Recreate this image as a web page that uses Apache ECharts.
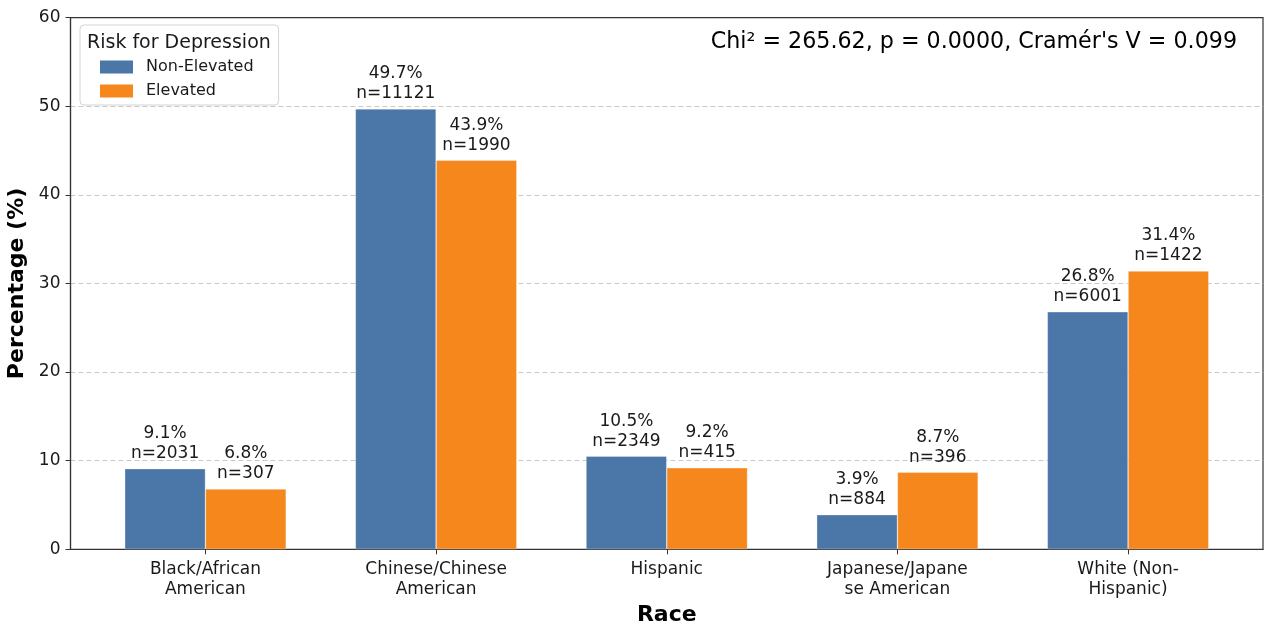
<!DOCTYPE html>
<html>
<head>
<meta charset="utf-8">
<script src="https://cdn.jsdelivr.net/npm/echarts@6/dist/echarts.min.js"></script>
<style>
html,body{margin:0;padding:0;background:#fff;}
#chart{width:1264px;height:624px;}
</style>
</head>
<body>
<div id="chart"></div>
<script>
const categories = ['Black/African American', 'Chinese/Chinese American', 'Hispanic', 'Japanese/Japanese American', 'White (Non-Hispanic)'];
const tickLabels = ['Black/African\nAmerican', 'Chinese/Chinese\nAmerican', 'Hispanic', 'Japanese/Japane\nse American', 'White (Non-\nHispanic)'];
const nonElevatedPct = [9.1, 49.7, 10.5, 3.9, 26.8];
const nonElevatedN = [2031, 11121, 2349, 884, 6001];
const elevatedPct = [6.8, 43.9, 9.2, 8.7, 31.4];
const elevatedN = [307, 1990, 415, 396, 1422];
const yTicks = [0, 10, 20, 30, 40, 50, 60];
const statsText = "Chi\u00b2 = 265.62, p = 0.0000, Cram\u00e9r's V = 0.099";

const FONT = 'DejaVu Sans';
const chart = echarts.init(document.getElementById('chart'), null, {renderer: 'canvas'});

function seriesData(vals) { return vals.map((v, i) => [i, v]); }
function labelFmt(pcts, ns) {
  return p => pcts[p.dataIndex].toFixed(1) + '%\nn=' + ns[p.dataIndex];
}
const labelStyle = {
  show: true, position: 'top', distance: 5,
  fontFamily: FONT, fontSize: 17, color: '#1a1a1a', lineHeight: 20, align: 'center'
};

chart.setOption({
  animation: false,
  backgroundColor: '#fff',
  title: [
    {
      text: statsText, right: 22, top: 26,
      textStyle: {fontFamily: FONT, fontSize: 22.2, fontWeight: 'normal', color: '#000'}
    },
    {
      text: 'Risk for Depression', left: 82, top: 29,
      textStyle: {fontFamily: FONT, fontSize: 19, fontWeight: 'normal', color: '#1a1a1a'}
    }
  ],
  legend: {
    orient: 'vertical', left: 80, top: 25,
    padding: [34, 25, 6, 20],
    itemGap: 8,
    itemWidth: 33, itemHeight: 13,
    icon: 'rect',
    backgroundColor: 'rgba(255,255,255,0.85)',
    borderColor: '#d4d4d4', borderWidth: 1, borderRadius: 4,
    textStyle: {fontFamily: FONT, fontSize: 16, color: '#1a1a1a', padding: [0, 0, 0, 8]},
    itemStyle: {borderWidth: 0},
    data: ['Non-Elevated', 'Elevated']
  },
  grid: {
    left: 70.5, right: 1, top: 17.6, bottom: 74.7,
    outerBoundsMode: 'none',
    show: true, borderColor: '#333', borderWidth: 1.2, backgroundColor: 'transparent',
    containLabel: false
  },
  xAxis: {
    type: 'value', min: -0.585, max: 4.585,
    name: 'Race', nameLocation: 'middle', nameGap: 46,
    nameTextStyle: {fontFamily: FONT, fontSize: 22, fontWeight: 'bold', color: '#000'},
    axisLine: {show: true, onZero: false, lineStyle: {color: '#333', width: 1.2}},
    axisTick: {show: true, customValues: [0, 1, 2, 3, 4], length: 5, lineStyle: {color: '#333'}},
    axisLabel: {
      customValues: [0, 1, 2, 3, 4], margin: 10,
      fontFamily: FONT, fontSize: 17, color: '#1a1a1a', lineHeight: 20,
      formatter: v => tickLabels[Math.round(v)]
    },
    splitLine: {show: false}
  },
  yAxis: {
    type: 'value', min: 0, max: 60, interval: 10,
    name: 'Percentage (%)', nameLocation: 'middle', nameGap: 42,
    nameTextStyle: {fontFamily: FONT, fontSize: 22, fontWeight: 'bold', color: '#000'},
    axisLine: {show: true, onZero: false, lineStyle: {color: '#333', width: 1.2}},
    axisTick: {show: true, length: 5, lineStyle: {color: '#333'}},
    axisLabel: {
      fontFamily: FONT, fontSize: 17, color: '#1a1a1a', margin: 10,
      formatter: v => yTicks.includes(v) ? String(v) : ''
    },
    splitLine: {show: true, showMinLine: false, showMaxLine: false, lineStyle: {color: '#c8c8c8', type: [5, 3], width: 1}}
  },
  series: [
    {
      name: 'Non-Elevated', type: 'bar',
      data: seriesData(nonElevatedPct),
      barWidth: '35%', barGap: '0%',
      itemStyle: {color: '#4A76A8', borderColor: 'rgba(255,255,255,0.5)', borderWidth: 0.6},
      label: Object.assign({}, labelStyle, {formatter: labelFmt(nonElevatedPct, nonElevatedN)})
    },
    {
      name: 'Elevated', type: 'bar',
      data: seriesData(elevatedPct),
      barWidth: '35%', barGap: '0%',
      itemStyle: {color: '#F5871C', borderColor: 'rgba(255,255,255,0.5)', borderWidth: 0.6},
      label: Object.assign({}, labelStyle, {formatter: labelFmt(elevatedPct, elevatedN)})
    }
  ]
});
</script>
</body>
</html>
